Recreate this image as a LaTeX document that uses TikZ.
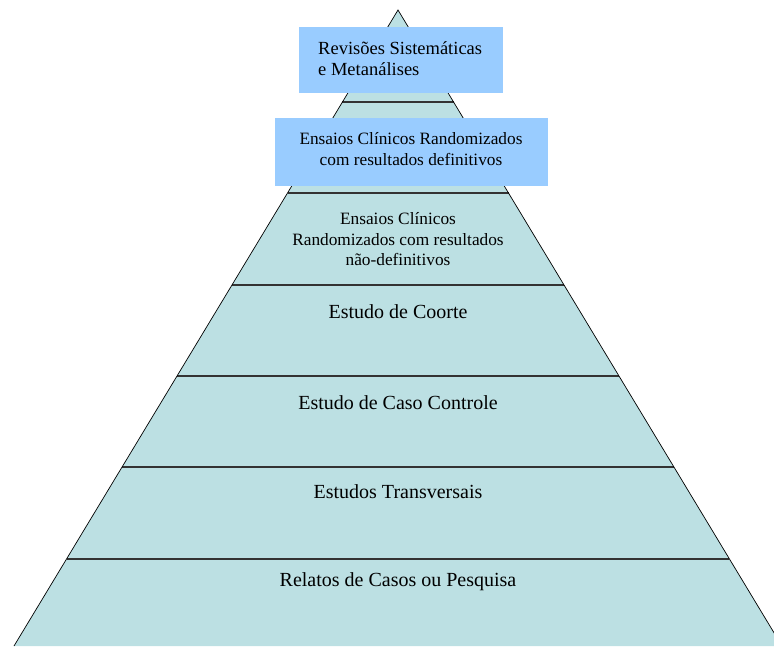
\documentclass[tikz,border=0pt]{standalone}
\usepackage{fontspec}
\setmainfont{Liberation Serif}
\usetikzlibrary{positioning}

\definecolor{pyrfill}{HTML}{BCE0E3}
\definecolor{boxfill}{HTML}{99CCFF}
\definecolor{tierline}{HTML}{333333}

\begin{document}
\begin{tikzpicture}[
    x=1pt, y=-1pt,
    tier/.style={draw=tierline, line width=1.5pt},
    edge/.style={draw=black, line width=0.7pt},
    label/.style={align=center, font=\fontsize{20}{24}\selectfont, inner sep=0pt},
    small/.style={align=center, font=\fontsize{17.3}{20.5}\selectfont, inner sep=0pt},
    topbox/.style={fill=boxfill, draw=none, inner sep=0pt}
]
\useasboundingbox (0,0) rectangle (774,646);
\begin{scope}
\clip (0,0) rectangle (774,646);
% pyramid body
\coordinate (apex) at (398,10);
\coordinate (baseL) at (14,646);
\coordinate (baseR) at (782,646);
\fill[pyrfill] (apex) -- (baseL) -- (baseR) -- cycle;
% tier separators
\foreach \ty in {102,193,285,376,467,559}{
  \draw[tier] ({398-0.6038*(\ty-10)},\ty) -- ({398+0.6038*(\ty-10)},\ty);
}
\draw[edge] (baseL) -- (apex) -- (baseR);
\end{scope}

% highlighted levels
\fill[topbox] (299,27) rectangle (503,93);
\fill[topbox] (275,118) rectangle (548,186);
\node[small, align=left, font=\fontsize{18.5}{21}\selectfont, anchor=west] (revisoes) at (318,58.5)
  {Revisões Sistemáticas\\e Metanálises};
\node[small] (ecrdef) at (411,149) {Ensaios Clínicos Randomizados\\com resultados definitivos};

% lower levels
\node[small] (ecrnao) at (398,239.5) {Ensaios Clínicos\\Randomizados com resultados\\não-definitivos};
\node[label] (coorte) at (398,312) {Estudo de Coorte};
\node[label] (caso) at (398,403) {Estudo de Caso Controle};
\node[label] (transv) at (398,492) {Estudos Transversais};
\node[label] (relatos) at (398,582) {Relatos de Casos ou Pesquisa};
\end{tikzpicture}
\end{document}
